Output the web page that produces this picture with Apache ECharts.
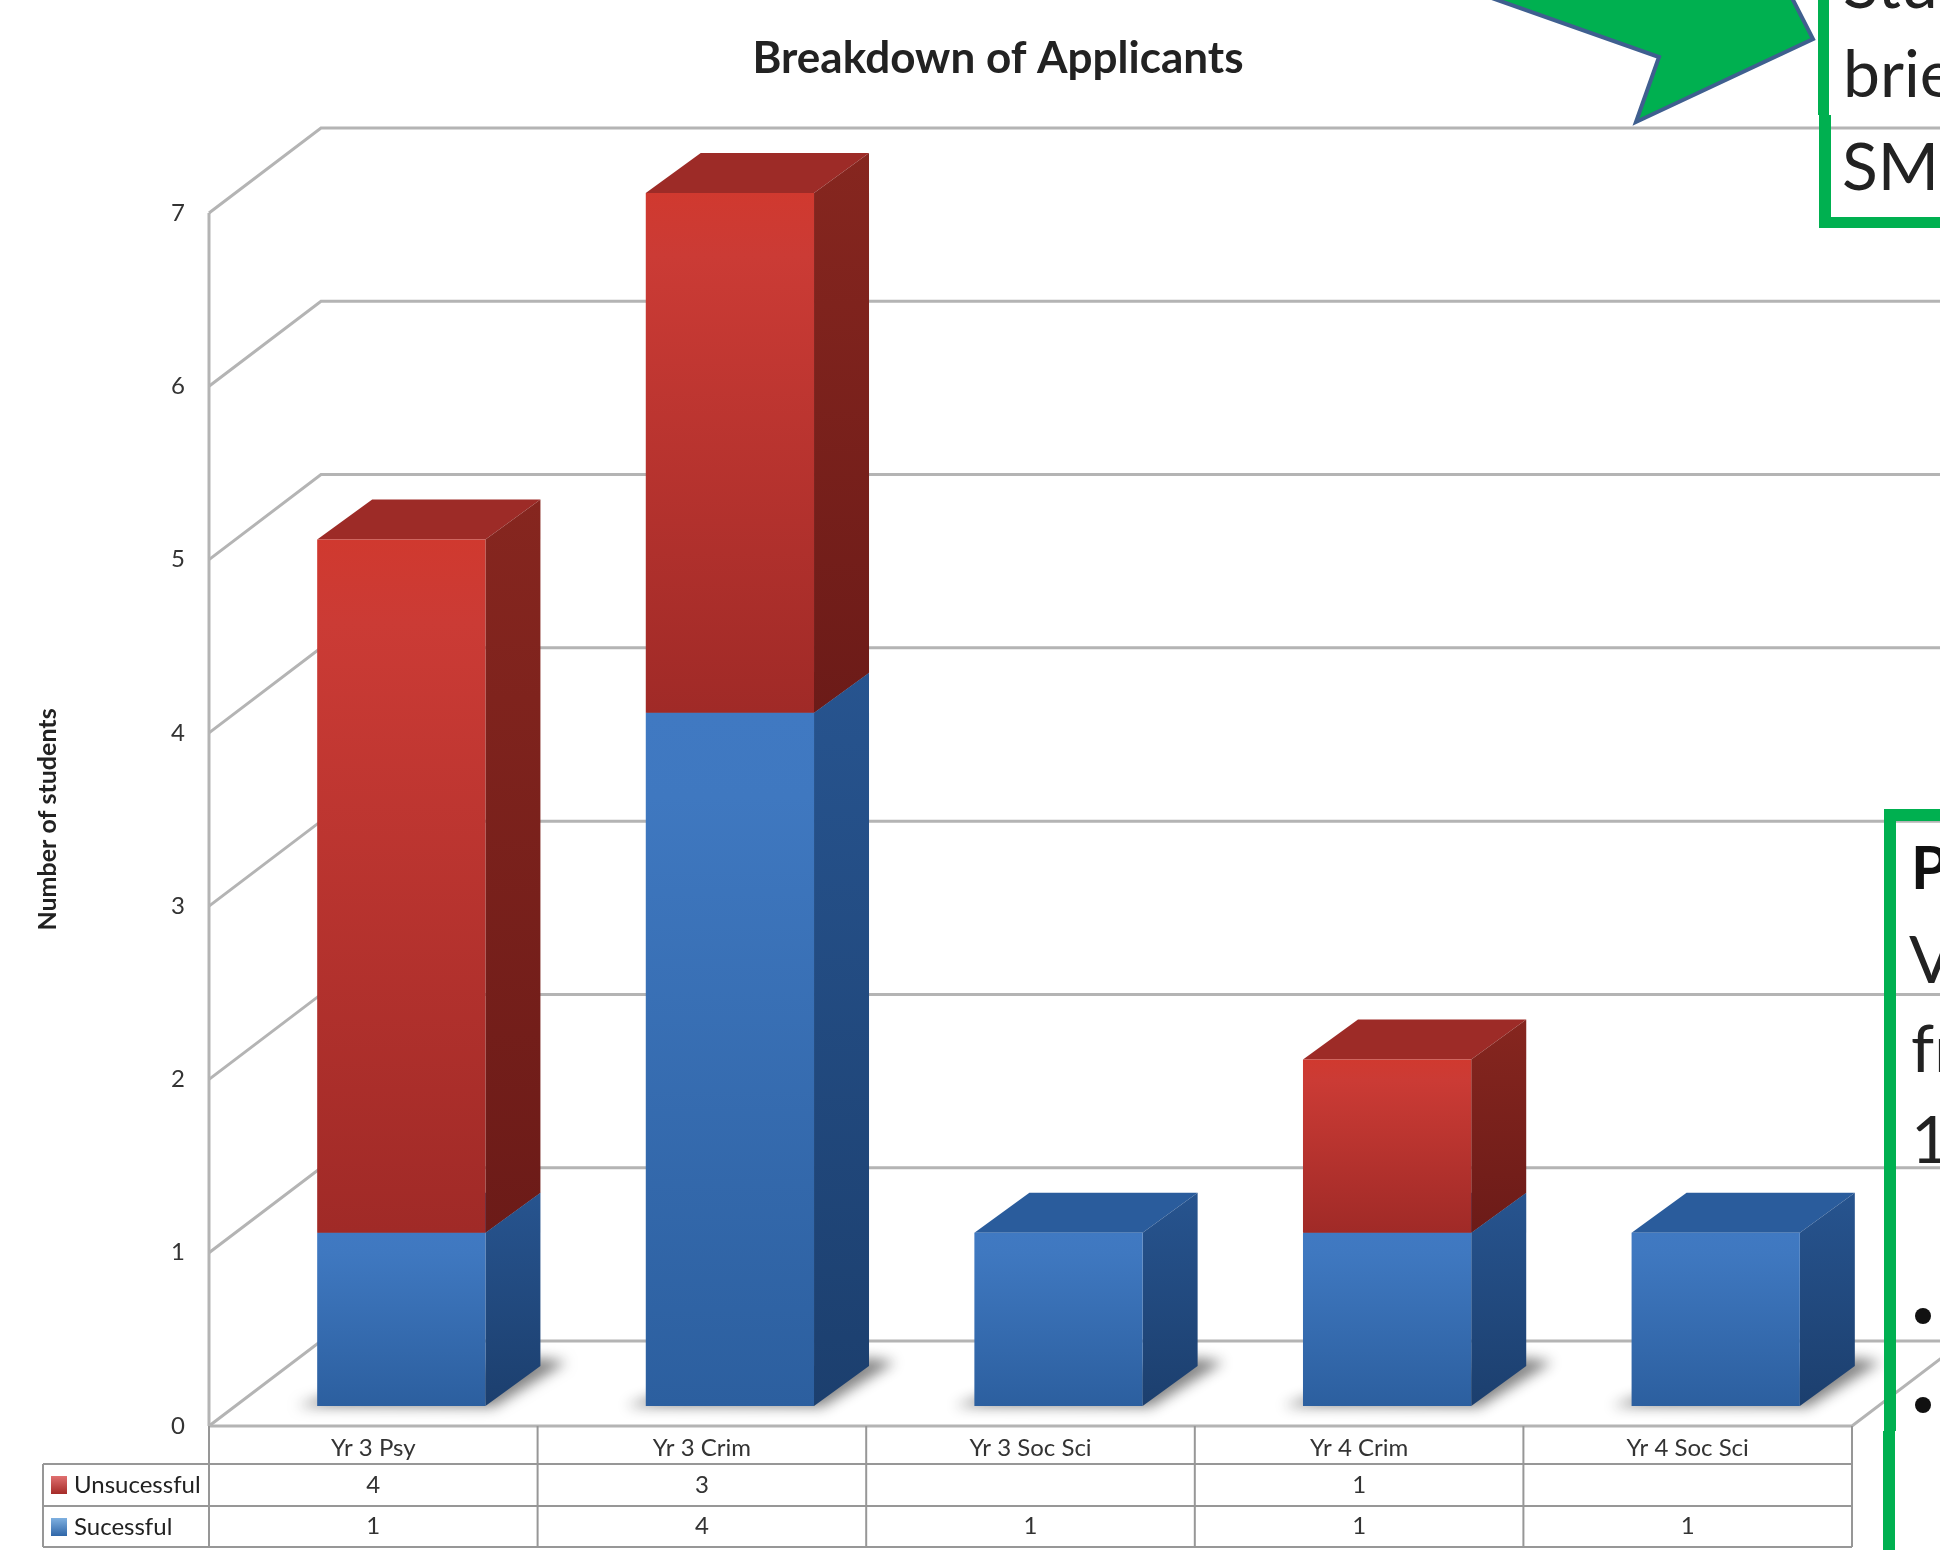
<!DOCTYPE html>
<html><head><meta charset="utf-8">
<style>html,body{margin:0;padding:0;background:#fff}#c{width:1940px;height:1550px}</style>
<script src="https://cdn.jsdelivr.net/npm/echarts@6/dist/echarts.min.js"></script>
</head><body><div id="c"></div>
<script>
const categories = ['Yr 3 Psy','Yr 3 Crim','Yr 3 Soc Sci','Yr 4 Crim','Yr 4 Soc Sci'];
const unsuccessful = [4,3,null,1,null];
const successful = [1,4,1,1,1];
const yTicks = [0,1,2,3,4,5,6,7];

const FONT = 'Lato, "Noto Sans", sans-serif';
const wall = {dx:112, dy:-85};
const bar = {shiftX:28, shiftY:-20, widthRatio:0.512, dx:55, dy:-40};
const SHADOW_SHIFT = 4000;
const grad = (a,b,c)=>({type:'linear',x:0,y:0,x2:0,y2:1,colorStops:c?[{offset:0,color:a},{offset:0.12,color:b},{offset:1,color:c}]:[{offset:0,color:a},{offset:1,color:b}]});
const redStyle = {front:grad('#d0392f','#cb3b35','#a02a27'), side:grad('#86261f','#6c1b18'), top:'#9d2b27'};
const blueStyle = {front:grad('#4079c2','#3f78c0','#2c5f9f'), side:grad('#27548f','#1c3f6e'), top:'#2a5c9c'};

function poly(points, fill, extra){
  return {type:'polygon',shape:{points},style:Object.assign({fill},extra||{})};
}
function barRenderer(st, withShadow){
  return function(params, api){
    const i = api.value(0), v0 = api.value(1), v1 = api.value(2);
    const band = api.size([1,0])[0];
    const w = band*bar.widthRatio;
    const c0 = api.coord([i,v0]), c1 = api.coord([i,v1]);
    const x0 = c0[0]-w/2+bar.shiftX, x1 = x0+w;
    const yb = c0[1]+bar.shiftY, yt = c1[1]+bar.shiftY;
    const ch = [];
    if(withShadow){
      // only the blurred shadow of this off-canvas floor shape lands on the page
      const pts = [[x0-20,yb],[x0+10,yb-10],[x1+bar.dx,yb+bar.dy-8],[x1+bar.dx+26,yb+bar.dy-4],[x1+8,yb+1]];
      ch.push(poly(pts.map(p=>[p[0]-SHADOW_SHIFT,p[1]]),'#000',{shadowBlur:13,shadowColor:'rgba(125,125,125,0.95)',shadowOffsetX:SHADOW_SHIFT}));
    }
    ch.push(poly([[x0,yt],[x0+bar.dx,yt+bar.dy],[x1+bar.dx,yt+bar.dy],[x1,yt]],st.top));
    ch.push(poly([[x1,yb],[x1+bar.dx,yb+bar.dy],[x1+bar.dx,yt+bar.dy],[x1,yt]],st.side));
    ch.push({type:'rect',shape:{x:x0,y:yt,width:w,height:yb-yt},style:{fill:st.front}});
    return {type:'group',children:ch};
  };
}
const gridColor = '#b4b4b4', tableColor = '#979797';
function line(pts, color, width){
  return {type:'polyline',shape:{points:pts},style:{stroke:color,lineWidth:width,fill:'none'}};
}
const blueData = successful.map((v,i)=>[i,0,v]);
const redData = unsuccessful.map((v,i)=>v==null?null:[i,successful[i],successful[i]+v]).filter(Boolean);

const rowY = {top:1464, mid:1506, bottom:1547, left:43};
const legendBase = {orient:'vertical',left:51,padding:0,itemWidth:16,itemHeight:18,icon:'rect',
    textStyle:{fontFamily:FONT,fontSize:24,color:'#222',padding:[0,0,0,2]}};
const option = {
  animation:false,
  backgroundColor:'#fff',
  textStyle:{fontFamily:FONT},
  title:{text:'Breakdown of Applicants',left:993,textAlign:'center',top:32,
    textStyle:{fontFamily:FONT,fontWeight:'bold',fontSize:44,color:'#222'}},
  legend:[
    Object.assign({},legendBase,{data:['Unsucessful'],top:1473}),
    Object.assign({},legendBase,{data:['Sucessful'],top:1515})
  ],
  grid:{left:209,right:88,top:213,bottom:124},
  xAxis:{type:'category',data:categories,axisLine:{show:false},axisTick:{show:false},
    axisLabel:{margin:10,fontSize:24,color:'#333',fontFamily:FONT,interval:0},splitLine:{show:false}},
  yAxis:{type:'value',min:0,max:7,interval:1,name:'Number of students',nameLocation:'middle',nameGap:149,
    nameTextStyle:{fontFamily:FONT,fontWeight:'bold',fontSize:25,color:'#222'},
    axisLine:{show:false},axisTick:{show:false},splitLine:{show:false},
    axisLabel:{margin:24,fontSize:24,color:'#333',fontFamily:FONT}},
  graphic:[
    {type:'polygon',z:100,shape:{points:[[1486,-4],[1659,57],[1636,122],[1813,39],[1791,-4]]},style:{fill:'#00b050',stroke:'#3f5f8f',lineWidth:4}},
    {type:'rect',z:100,shape:{x:1818,y:-2,width:11,height:117},style:{fill:'#00b050'}},
    {type:'rect',z:100,shape:{x:1819,y:115,width:12,height:113},style:{fill:'#00b050'}},
    {type:'rect',z:100,shape:{x:1819,y:217,width:125,height:11},style:{fill:'#00b050'}},
    {type:'rect',z:100,shape:{x:1884,y:809,width:60,height:12},style:{fill:'#00b050'}},
    {type:'rect',z:100,shape:{x:1884,y:809,width:12,height:622},style:{fill:'#00b050'}},
    {type:'rect',z:100,shape:{x:1883,y:1431,width:12,height:122},style:{fill:'#00b050'}},
    ...[['Stu',1843,8],['brie',1843,97],['SM',1842,190]].map(t=>({type:'text',z:101,style:{text:t[0],x:t[1],y:t[2]-21,fill:'#222',font:'66px '+FONT,verticalAlign:'middle'}})),
    {type:'text',z:101,style:{text:'P',x:1911,y:870,fill:'#111',font:'bold 60px '+FONT,verticalAlign:'middle'}},
    ...[['V',1909,983],['fr',1911,1072],['1',1911,1163]].map(t=>({type:'text',z:101,style:{text:t[0],x:t[1],y:t[2]-21,fill:'#222',font:'66px '+FONT,verticalAlign:'middle'}})),
    {type:'circle',z:101,shape:{cx:1923,cy:1316,r:8},style:{fill:'#111'}},
    {type:'circle',z:101,shape:{cx:1923,cy:1405,r:8},style:{fill:'#111'}}
  ],
  series:[
    {type:'custom',name:'walls',z:1,silent:true,clip:false,data:yTicks.map(v=>[0,v]),
      renderItem(params,api){
        const v = api.value(1);
        const s = api.size([1,0])[0];
        const c = api.coord([0,v]);
        const left = c[0]-s/2;
        const ch = [line([[left,c[1]],[left+wall.dx,c[1]+wall.dy],[2000,c[1]+wall.dy]],gridColor,3)];
        if(v===0){
          const right = left+s*categories.length;
          const top = api.coord([0,yTicks[yTicks.length-1]])[1];
          ch.push(line([[left,c[1]],[right,c[1]],[right+wall.dx,c[1]+wall.dy]],gridColor,3));
          ch.push(line([[left,c[1]],[left,top]],gridColor,3));
        }
        return {type:'group',children:ch};
      }},
    {type:'custom',name:'Sucessful',z:3,data:blueData,encode:{x:0,y:[1,2]},clip:false,itemStyle:{color:grad('#7fb0e0','#2f66a8')},renderItem:barRenderer(blueStyle,true)},
    {type:'custom',name:'Unsucessful',z:3,data:redData,encode:{x:0,y:[1,2]},clip:false,itemStyle:{color:grad('#e07070','#a52b28')},renderItem:barRenderer(redStyle,false)},
    {type:'custom',name:'table',z:2,silent:true,clip:false,data:categories.map((c,i)=>[i,unsuccessful[i]==null?'':unsuccessful[i],successful[i]]),
      renderItem(params,api){
        const i = api.value(0);
        const s = api.size([1,0])[0];
        const cx = api.coord([i,0])[0];
        const yAxis0 = api.coord([i,0])[1];
        const ch = [];
        const txt = (t,y)=>({type:'text',style:{text:String(t),x:cx,y,align:'center',verticalAlign:'middle',fill:'#333',font:'24px '+FONT}});
        const u = unsuccessful[i], g = successful[i];
        if(u!=null) ch.push(txt(u,(rowY.top+rowY.mid)/2));
        if(g!=null) ch.push(txt(g,(rowY.mid+rowY.bottom)/2));
        ch.push(line([[cx+s/2,yAxis0],[cx+s/2,rowY.bottom]],tableColor,2));
        if(i===0){
          const l = cx-s/2, r = l+s*categories.length;
          ch.push(line([[l,yAxis0],[l,rowY.bottom]],tableColor,2));
          ch.push(line([[rowY.left,rowY.top],[rowY.left,rowY.bottom]],tableColor,2));
          [rowY.top,rowY.mid,rowY.bottom].forEach(y=>ch.push(line([[rowY.left,y],[r,y]],tableColor,2)));
        }
        return {type:'group',children:ch};
      }}
  ]
};
echarts.init(document.getElementById('c')).setOption(option);
</script></body></html>
